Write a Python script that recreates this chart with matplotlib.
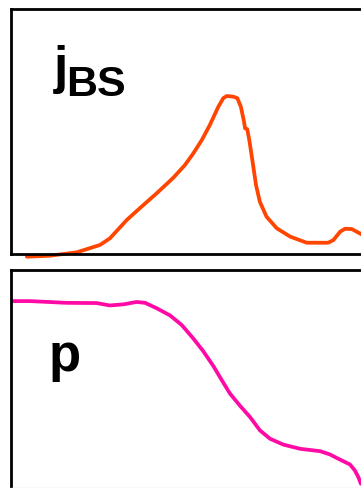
import matplotlib
matplotlib.use("Agg")
import matplotlib.pyplot as plt
import numpy as np

# normalised radius and profiles
rho_j = [0.045, 0.111, 0.187, 0.253, 0.281, 0.329, 0.366, 0.414, 0.461, 0.494,
         0.518, 0.542, 0.565, 0.589, 0.603, 0.613, 0.632, 0.643, 0.653, 0.662,
         0.665, 0.671, 0.677, 0.687, 0.696, 0.707, 0.726, 0.755, 0.793, 0.840,
         0.901, 0.916, 0.935, 0.949, 0.968, 0.991, 1.010]
j_bs = [-0.011, -0.007, 0.007, 0.037, 0.064, 0.139, 0.187, 0.248, 0.311, 0.363,
        0.411, 0.465, 0.527, 0.601, 0.636, 0.645, 0.642, 0.636, 0.601, 0.540,
        0.513, 0.510, 0.465, 0.370, 0.282, 0.213, 0.152, 0.105, 0.071, 0.046,
        0.046, 0.057, 0.091, 0.103, 0.102, 0.084, 0.070]

rho_p = [0.0, 0.054, 0.158, 0.243, 0.281, 0.319, 0.357, 0.381, 0.414, 0.452,
         0.485, 0.518, 0.546, 0.575, 0.599, 0.622, 0.651, 0.679, 0.707, 0.736,
         0.774, 0.821, 0.878, 0.906, 0.935, 0.963, 0.977, 0.987, 0.994]
p = [0.857, 0.857, 0.849, 0.848, 0.837, 0.842, 0.853, 0.849, 0.824, 0.791,
     0.747, 0.685, 0.627, 0.558, 0.493, 0.432, 0.375, 0.324, 0.263, 0.224,
     0.197, 0.178, 0.167, 0.152, 0.128, 0.106, 0.078, 0.047, 0.017]

W, H = 361, 488
fig = plt.figure(figsize=(W / 100, H / 100), dpi=100)

def px_axes(x0, y0, x1, y1):
    # axes from pixel box (top-left origin)
    return fig.add_axes([x0 / W, 1 - y1 / H, (x1 - x0) / W, (y1 - y0) / H])

ax1 = px_axes(11, 9, 363, 254)
ax2 = px_axes(11, 270, 363, 487.5)

for ax in (ax1, ax2):
    ax.set_xlim(0, 1)
    ax.set_ylim(0, 1)
    ax.set_xticks([])
    ax.set_yticks([])
    for s in ax.spines.values():
        s.set_linewidth(2.0)
        s.set_color("black")
# bottom of the lower panel is cut off, only a faint edge shows
ax2.spines["bottom"].set_color("#dddddd")
ax2.spines["bottom"].set_linewidth(1.0)

ax1.plot(rho_j, j_bs, color="#ff4500", lw=2.7, clip_on=False,
         solid_capstyle="round", solid_joinstyle="round")
ax2.plot(rho_p, p, color="#ff0aa5", lw=2.7,
         solid_capstyle="round", solid_joinstyle="round")

font = "Liberation Sans"
fig.text(54 / W, 1 - 83 / H, "j", fontsize=37, fontweight="bold",
         family=font, va="baseline", ha="left")
fig.text(66 / W, 1 - 96 / H, "BS", fontsize=31, fontweight="bold",
         family=font, va="baseline", ha="left")
fig.text(49 / W, 1 - 371 / H, "p", fontsize=38, fontweight="bold",
         family=font, va="baseline", ha="left")

fig.savefig("out.png", dpi=100)
